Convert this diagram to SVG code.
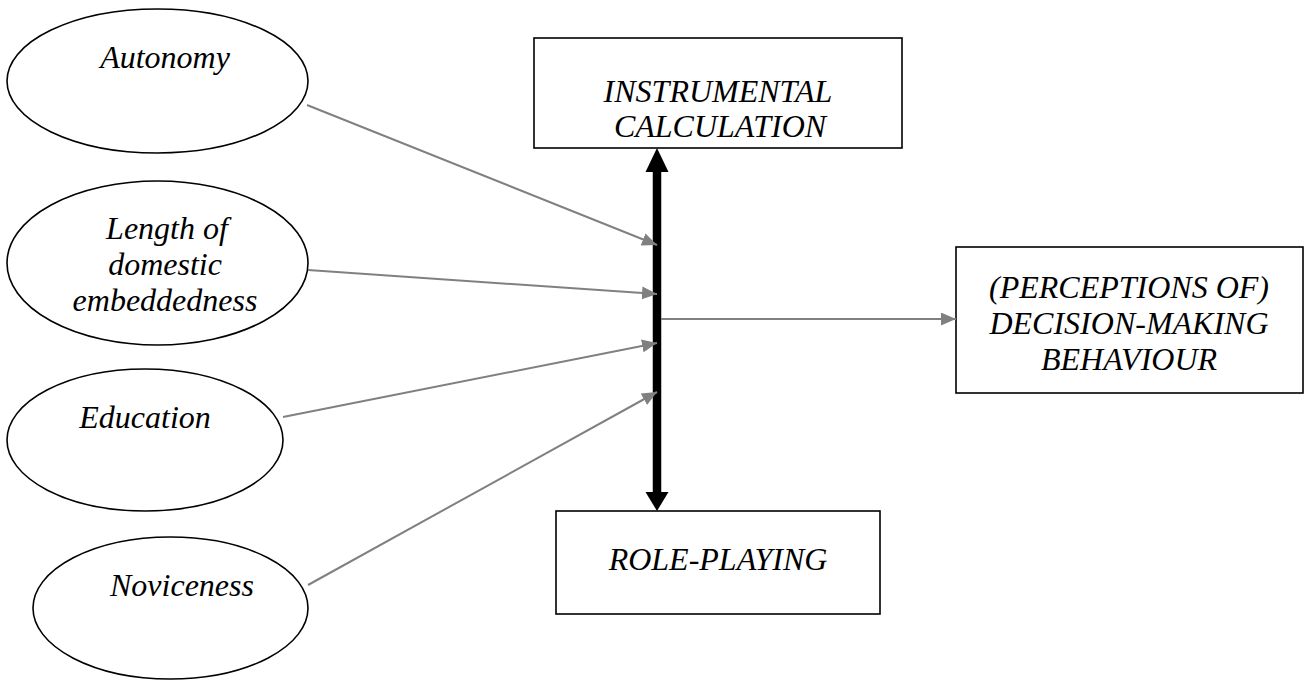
<svg xmlns="http://www.w3.org/2000/svg" width="1309" height="682" viewBox="0 0 1309 682">
<style>
.shape{fill:#fff;stroke:#000;stroke-width:1.6}
.t{font-family:"Liberation Serif","Times New Roman",serif;font-style:italic;font-size:32px;fill:#000;text-anchor:middle}
.g{stroke:#808080;stroke-width:2;fill:none}
</style>
<defs>
<marker id="ga" viewBox="0 0 15 13" refX="15" refY="6.5" markerWidth="15" markerHeight="13" markerUnits="userSpaceOnUse" orient="auto">
<path d="M0,0 L15,6.5 L0,13 Z" fill="#808080"/>
</marker>
</defs>
<rect width="1309" height="682" fill="#fff"/>
<g id="autonomy">
<ellipse class="shape" cx="157.5" cy="81" rx="150.5" ry="72"/>
<text class="t" x="165" y="68">Autonomy</text>
</g>
<g id="length">
<ellipse class="shape" cx="157.5" cy="263" rx="150.5" ry="82"/>
<text class="t" x="167" y="239">Length of</text>
<text class="t" x="165" y="275">domestic</text>
<text class="t" x="165" y="311">embeddedness</text>
</g>
<g id="education">
<ellipse class="shape" cx="145" cy="440" rx="138" ry="71"/>
<text class="t" x="145" y="428">Education</text>
</g>
<g id="noviceness">
<ellipse class="shape" cx="170.5" cy="608" rx="137.5" ry="71"/>
<text class="t" x="182" y="596">Noviceness</text>
</g>
<g id="instrumental">
<rect class="shape" x="534" y="38" width="368" height="110"/>
<text class="t" x="718" y="102">INSTRUMENTAL</text>
<text class="t" x="720" y="137">CALCULATION</text>
</g>
<g id="roleplaying">
<rect class="shape" x="556" y="511" width="324" height="103"/>
<text class="t" x="718" y="570">ROLE-PLAYING</text>
</g>
<g id="decision">
<rect class="shape" x="956" y="247" width="347" height="146"/>
<text class="t" x="1129" y="298">(PERCEPTIONS OF)</text>
<text class="t" x="1129" y="334">DECISION-MAKING</text>
<text class="t" x="1129" y="370">BEHAVIOUR</text>
</g>
<g id="connectors">
<line x1="657" y1="170" x2="657" y2="494" stroke="#000" stroke-width="8.5"/>
<path d="M657,148 L668.5,172 L645.5,172 Z" fill="#000"/>
<path d="M657,511 L668.5,492 L645.5,492 Z" fill="#000"/>
<line class="g" x1="307" y1="105" x2="657" y2="245" marker-end="url(#ga)"/>
<line class="g" x1="308" y1="270" x2="657" y2="294" marker-end="url(#ga)"/>
<line class="g" x1="283" y1="417" x2="657" y2="343" marker-end="url(#ga)"/>
<line class="g" x1="308" y1="585" x2="657" y2="392" marker-end="url(#ga)"/>
<line class="g" x1="661" y1="319" x2="956" y2="319" marker-end="url(#ga)"/>
</g>
</svg>
